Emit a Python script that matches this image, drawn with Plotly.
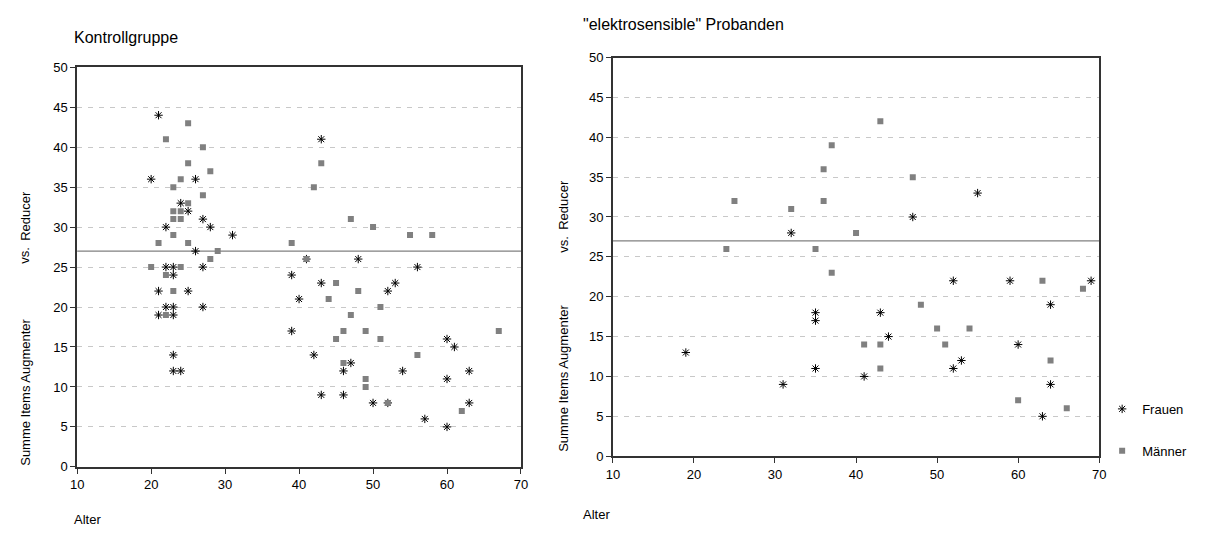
import plotly.graph_objects as go

W, H = 1207, 540

# ---------------- data ----------------
# Kontrollgruppe - Frauen
ctrl_f_age = [21, 20, 26, 24, 25, 27, 28, 22, 31, 26, 22, 23, 27, 23, 21, 25, 22, 23, 27, 21, 23, 23, 23, 24,
              43, 41, 48, 39, 43, 52, 53, 40, 39, 42, 47, 46, 54, 43, 46, 50, 52, 56, 60, 61, 63, 60, 63, 57, 60]
ctrl_f_score = [44, 36, 36, 33, 32, 31, 30, 30, 29, 27, 25, 25, 25, 24, 22, 22, 20, 20, 20, 19, 19, 14, 12, 12,
                41, 26, 26, 24, 23, 22, 23, 21, 17, 14, 13, 12, 12, 9, 9, 8, 8, 25, 16, 15, 12, 11, 8, 6, 5]
# Kontrollgruppe - Männer
ctrl_m_age = [25, 22, 27, 25, 28, 24, 23, 27, 25, 23, 24, 23, 24, 23, 21, 25, 29, 28, 20, 24, 22, 23, 22,
              43, 42, 47, 50, 39, 41, 55, 58, 45, 48, 44, 51, 47, 46, 49, 45, 51, 46, 49, 49, 52, 56, 67, 62]
ctrl_m_score = [43, 41, 40, 38, 37, 36, 35, 34, 33, 32, 32, 31, 31, 29, 28, 28, 27, 26, 25, 25, 24, 22, 19,
                38, 35, 31, 30, 28, 26, 29, 29, 23, 22, 21, 20, 19, 17, 17, 16, 16, 13, 11, 10, 8, 14, 17, 7]

# "elektrosensible" Probanden - Frauen
es_f_age = [19, 31, 32, 35, 35, 35, 41, 43, 44, 47, 52, 52, 53, 55, 59, 60, 63, 64, 64, 69]
es_f_score = [13, 9, 28, 18, 17, 11, 10, 18, 15, 30, 22, 11, 12, 33, 22, 14, 5, 19, 9, 22]
# "elektrosensible" Probanden - Männer
es_m_age = [24, 25, 32, 35, 36, 36, 37, 37, 40, 41, 43, 43, 43, 47, 48, 50, 51, 54, 60, 63, 64, 66, 68]
es_m_score = [26, 32, 31, 26, 36, 32, 39, 23, 28, 14, 42, 14, 11, 35, 19, 16, 14, 16, 7, 22, 12, 6, 21]

x_ticks = [10, 20, 30, 40, 50, 60, 70]
y_ticks = [0, 5, 10, 15, 20, 25, 30, 35, 40, 45, 50]
ref_value = 27

series_names = ["Frauen", "Männer"]
titles = ["Kontrollgruppe", "\"elektrosensible\" Probanden"]
x_title = "Alter"
y_title_parts = ["Summe Items Augmenter", "vs.", "Reducer"]

# ---------------- styling ----------------
FONT = "Liberation Sans, Arial, sans-serif"
F_COLOR = "#000000"
M_COLOR = "#808080"


def px_x(p):
    return p / W


def px_y(p):
    return 1 - p / H


fig = go.Figure()

f_marker = dict(symbol="asterisk-open", size=7, color=F_COLOR, line=dict(color=F_COLOR, width=1))
m_marker = dict(symbol="square", size=6, color=M_COLOR)

# left plot traces
fig.add_trace(go.Scatter(x=ctrl_f_age, y=ctrl_f_score, mode="markers", name=series_names[0],
                         legendgroup="f", showlegend=False, xaxis="x", yaxis="y", marker=f_marker))
fig.add_trace(go.Scatter(x=ctrl_m_age, y=ctrl_m_score, mode="markers", name=series_names[1],
                         legendgroup="m", showlegend=False, xaxis="x", yaxis="y", marker=m_marker))
# right plot traces
fig.add_trace(go.Scatter(x=es_f_age, y=es_f_score, mode="markers", name=series_names[0],
                         legendgroup="f", showlegend=True, xaxis="x2", yaxis="y2", marker=f_marker))
fig.add_trace(go.Scatter(x=es_m_age, y=es_m_score, mode="markers", name=series_names[1],
                         legendgroup="m", showlegend=True, xaxis="x2", yaxis="y2", marker=m_marker))

axis_common = dict(
    showline=True, linecolor="#333333", linewidth=1.5, mirror=True,
    ticks="outside", ticklen=5, tickwidth=1.2, tickcolor="#333333",
    tickfont=dict(family=FONT, size=13, color="#000000"),
    zeroline=False,
)

# left plot frame: x 71..520, y 62..473
# right plot frame: x 613..1105, y 52..462
fig.update_layout(
    width=W, height=H,
    margin=dict(l=0, r=0, t=0, b=0),
    paper_bgcolor="white", plot_bgcolor="white",
    font=dict(family=FONT, size=13, color="#000000"),
    xaxis=dict(domain=[px_x(71), px_x(520)], range=[10, 70], tickvals=x_ticks,
               showgrid=False, anchor="y", **axis_common),
    yaxis=dict(domain=[px_y(473), px_y(62)], range=[0, 50], tickvals=y_ticks,
               showgrid=True, gridcolor="#c8c8c8", griddash="5px,6px", gridwidth=1,
               anchor="x", **axis_common),
    xaxis2=dict(domain=[px_x(613), px_x(1105)], range=[10, 70], tickvals=x_ticks,
                showgrid=False, anchor="y2", **axis_common),
    yaxis2=dict(domain=[px_y(462), px_y(52)], range=[0, 50], tickvals=y_ticks,
                showgrid=True, gridcolor="#c8c8c8", griddash="5px,6px", gridwidth=1,
                anchor="x2", **axis_common),
    legend=dict(x=px_x(1108), y=px_y(398), xanchor="left", yanchor="top",
                font=dict(family=FONT, size=13, color="#000000"),
                tracegroupgap=22, bgcolor="rgba(0,0,0,0)", itemwidth=30),
    showlegend=True,
)

# reference lines at y = ref_value
for xr, yr in (("x domain", "y"), ("x2 domain", "y2")):
    fig.add_shape(type="line", xref=xr, yref=yr, x0=0, x1=1, y0=ref_value, y1=ref_value,
                  line=dict(color="#808080", width=1.3), layer="below")

ann = []
# titles
ann.append(dict(text=titles[0], x=px_x(66), y=px_y(31), xanchor="left", yanchor="middle",
                font=dict(size=16)))
ann.append(dict(text=titles[1], x=px_x(581), y=px_y(18), xanchor="left", yanchor="middle",
                font=dict(size=16)))
# x titles
ann.append(dict(text=x_title, x=px_x(66), y=px_y(527), xanchor="left", yanchor="middle",
                font=dict(size=13)))
ann.append(dict(text=x_title, x=px_x(581), y=px_y(522), xanchor="left", yanchor="middle",
                font=dict(size=13)))
# y titles (rotated)
for xc, ys in ((18, (396, 255, 215)), (563, (382, 244, 203))):
    for part, yc in zip(y_title_parts, ys):
        ann.append(dict(text=part, x=px_x(xc), y=px_y(yc), xanchor="center", yanchor="middle",
                        textangle=-90, font=dict(size=13)))

for a in ann:
    a.update(xref="paper", yref="paper", showarrow=False)
fig.update_layout(annotations=ann)

fig.write_html("out.html")
